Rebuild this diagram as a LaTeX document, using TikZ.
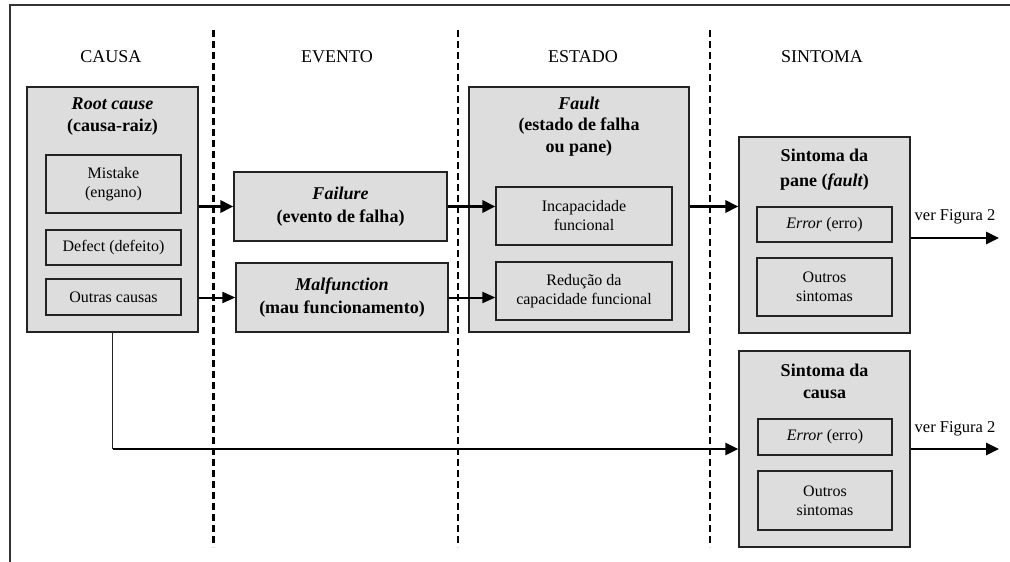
\documentclass[tikz,border=0pt]{standalone}
\usepackage{fontspec}
\setmainfont{Liberation Serif}
\usetikzlibrary{arrows.meta}
\definecolor{boxgray}{RGB}{221,221,221}
\definecolor{edgec}{RGB}{35,35,35}
\newcommand{\regf}{\fontsize{16}{19}\selectfont}
\newcommand{\ttlf}{\fontsize{18}{22.5}\selectfont\bfseries}
\newcommand{\hdrf}{\fontsize{18}{21}\selectfont}
\tikzset{
  outerbox/.style={draw=edgec, fill=boxgray, line width=1.3pt, inner sep=0pt},
  innerbox/.style={draw=edgec, fill=boxgray, line width=1.3pt, inner sep=0pt, align=center, font=\regf},
  evbox/.style={draw=edgec, fill=boxgray, line width=1.3pt, inner sep=0pt, align=center, font=\ttlf},
  titletext/.style={inner sep=0pt, align=center, font=\ttlf},
  headtext/.style={inner sep=0pt, font=\hdrf},
  labeltext/.style={inner sep=0pt, font=\fontsize{16.5}{19}\selectfont},
  sep/.style={dash pattern=on 7pt off 4pt, line width=2pt, black},
  bigarrow/.style={line width=3.8pt, -{Triangle[length=13pt,width=12pt]}},
  midarrow/.style={line width=2.8pt, -{Triangle[length=13pt,width=12pt]}},
  smallarrow/.style={line width=2pt, -{Triangle[length=13pt,width=11pt]}},
  thinline/.style={line width=1.3pt, edgec},
}
\begin{document}
\begin{tikzpicture}[x=1pt,y=-1pt]
\useasboundingbox (0,0) rectangle (1010,562);
% frame
\draw[line width=2pt, black!80] (10,562) -- (10,5) -- (1010,5);
% separators
\coordinate (s1t) at (213,30); \coordinate (s1b) at (213,547);
\coordinate (s2t) at (458,30); \coordinate (s2b) at (458,547);
\coordinate (s3t) at (710,30); \coordinate (s3b) at (710,547);
\draw[sep, line width=3pt] (s1t) -- (s1b);
\draw[sep] (s2t) -- (s2b);
\draw[sep] (s3t) -- (s3b);
% headers
\node[headtext] (hcausa) at (111,57) {CAUSA};
\node[headtext] (hevento) at (337,57) {EVENTO};
\node[headtext] (hestado) at (583,57) {ESTADO};
\node[headtext] (hsintoma) at (822,57) {SINTOMA};
% root cause
\node[outerbox, minimum width=171pt, minimum height=245pt] (root) at (112.5,209.5) {};
\node[titletext] (roott) at (112.5,116.5) {\textit{Root cause}\\(causa-raiz)};
\node[innerbox, minimum width=135pt, minimum height=58pt] (mist) at (113.5,184) {Mistake\\(engano)};
\node[innerbox, minimum width=135pt, minimum height=35pt] (defe) at (113.5,247.5) {Defect (defeito)};
\node[innerbox, minimum width=135pt, minimum height=36pt] (outc) at (113.5,297) {Outras causas};
% events
\node[evbox, minimum width=213pt, minimum height=69pt] (fail) at (340.5,206.5) {\textit{Failure}\\(evento de falha)};
\node[evbox, minimum width=212pt, minimum height=69pt] (malf) at (342,297.5) {\textit{Malfunction}\\(mau funcionamento)};
% fault
\node[outerbox, minimum width=220pt, minimum height=245pt] (fault) at (579,209.5) {};
\node[titletext, font=\fontsize{18}{21.5}\selectfont\bfseries] (faultt) at (579,126.5) {\textit{Fault}\\(estado de falha\\ou pane)};
\node[innerbox, minimum width=176pt, minimum height=58pt] (incap) at (584,216) {Incapacidade\\funcional};
\node[innerbox, minimum width=176pt, minimum height=58pt] (redu) at (584,291) {Redução da\\capacidade funcional};
% symptom of fault
\node[outerbox, minimum width=171pt, minimum height=196pt] (pane) at (824.5,235) {};
\node[titletext, font=\fontsize{18}{25}\selectfont\bfseries] (panet) at (824.5,169.5) {Sintoma da\\pane (\textit{fault})};
\node[innerbox, minimum width=135pt, minimum height=35pt] (err1) at (824.5,224.5) {\textit{Error} (erro)};
\node[innerbox, minimum width=135pt, minimum height=58pt] (out1) at (824.5,287) {Outros\\sintomas};
% symptom of cause
\node[outerbox, minimum width=171pt, minimum height=196pt] (causa) at (824.5,449) {};
\node[titletext] (causat) at (824.5,381.5) {Sintoma da\\causa};
\node[innerbox, minimum width=134pt, minimum height=36pt] (err2) at (825,437) {\textit{Error} (erro)};
\node[innerbox, minimum width=134pt, minimum height=59pt] (out2) at (825,500.5) {Outros\\sintomas};
% outputs
\coordinate (o1) at (999,238);
\coordinate (o2) at (999,449);
\node[labeltext] (lab1) at (955,217) {ver Figura 2};
\node[labeltext] (lab2) at (955,429) {ver Figura 2};
% connectors
\draw[bigarrow] (root.east |- fail.west) -- (fail.west);
\draw[bigarrow] (fail.east) -- (fail.east -| incap.west);
\draw[bigarrow] (fault.east |- fail.east) -- (pane.west |- fail.east);
\draw[smallarrow] (root.east |- malf.west) -- (malf.west);
\draw[smallarrow] (malf.east) -- (malf.east -| redu.west);
\draw[midarrow] (pane.east |- o1) -- (o1);
\draw[midarrow] (causa.east) -- (o2);
\draw[thinline] (root.south) -- (root.south |- causa.west);
\draw[midarrow] (root.south |- causa.west) -- (causa.west);
\end{tikzpicture}
\end{document}
